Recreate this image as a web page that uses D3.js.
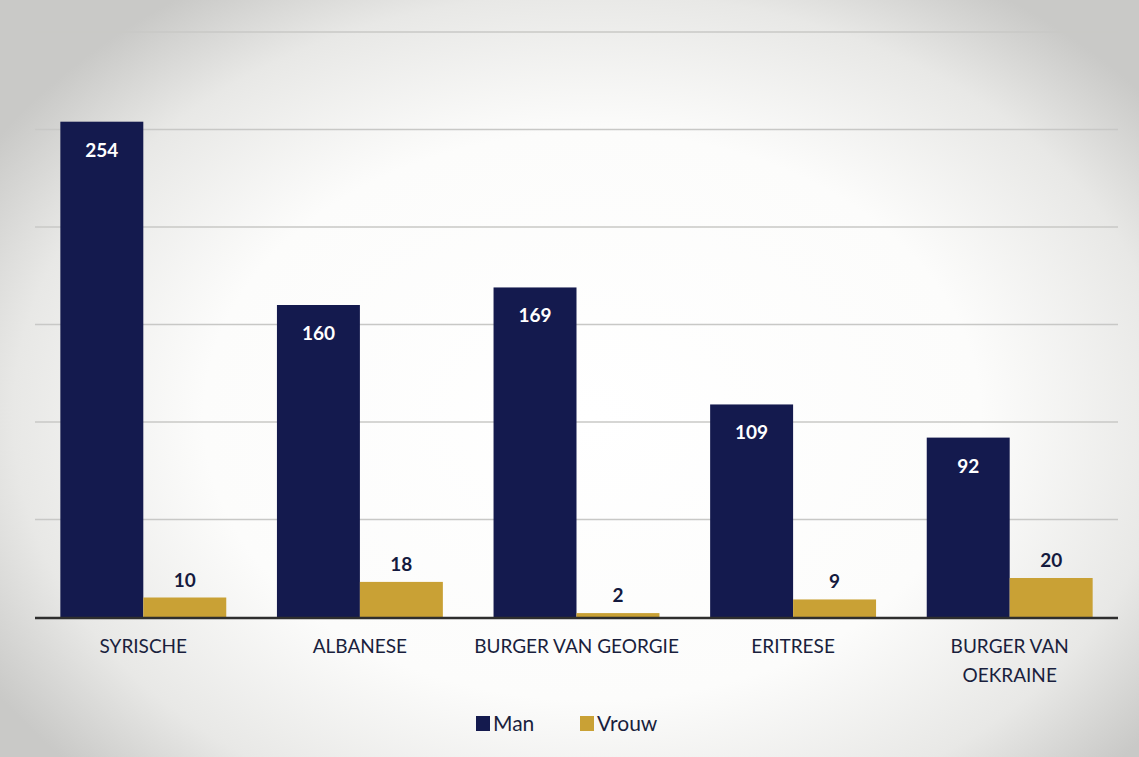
<!DOCTYPE html>
<html><head><meta charset="utf-8">
<script src="https://cdn.jsdelivr.net/npm/d3@7"></script>
<style>html,body{margin:0;padding:0;background:#fff;}svg{display:block;}</style>
</head><body>
<script>
const categories = [["SYRISCHE"],["ALBANESE"],["BURGER VAN GEORGIE"],["ERITRESE"],["BURGER VAN","OEKRAINE"]];
const seriesNames = ["Man","Vrouw"];
const manValues = [254,160,169,109,92];
const vrouwValues = [10,18,2,9,20];
const gridTicks = [50,100,150,200,250,300];
const colors = {Man:"#141a4e", Vrouw:"#c9a135"};

(function(){
const W=1139,H=757;
const svg=d3.select("body").append("svg").attr("width",W).attr("height",H);
const defs=svg.append("defs");
const rg=defs.append("radialGradient").attr("id","bg").attr("cx","52%").attr("cy","55%").attr("r","62%")
  .attr("gradientTransform","translate(0.5,0.55) scale(1,1.1) translate(-0.5,-0.55)");
rg.append("stop").attr("offset","0%").attr("stop-color","#ffffff");
rg.append("stop").attr("offset","55%").attr("stop-color","#fcfcfb");
rg.append("stop").attr("offset","82%").attr("stop-color","#e8e8e6");
rg.append("stop").attr("offset","100%").attr("stop-color","#c9c9c7");
svg.append("rect").attr("width",W).attr("height",H).attr("fill","url(#bg)");

const left=35,right=1118,plotTop=32,base=617;
const x=d3.scaleBand().domain(d3.range(categories.length)).range([left,right]).paddingInner(0.234).paddingOuter(0.117);
const xs=d3.scaleBand().domain(seriesNames).range([0,x.bandwidth()]);
const y=d3.scaleLinear().domain([0,300]).range([base,plotTop]);

svg.append("g").selectAll("line").data(gridTicks).join("line")
 .attr("x1",left).attr("x2",right).attr("y1",d=>y(d)).attr("y2",d=>y(d))
 .attr("stroke","#c8c8c6").attr("stroke-width",1.4);

const font="Lato, 'Open Sans', sans-serif";
const data=categories.map((c,i)=>({i,Man:manValues[i],Vrouw:vrouwValues[i]}));
const g=svg.append("g");
data.forEach(d=>{
  seriesNames.forEach(s=>{
    const x0=x(d.i)+xs(s);
    g.append("rect").attr("x",x0).attr("y",y(d[s])).attr("width",xs.bandwidth()).attr("height",base-y(d[s])).attr("fill",colors[s]);
    if(s==="Man"){
      g.append("text").attr("x",x0+xs.bandwidth()/2).attr("y",y(d[s])+35).attr("text-anchor","middle")
       .attr("font-family",font).attr("font-weight",700).attr("font-size",19).attr("fill","#ffffff").text(d[s]);
    } else {
      g.append("text").attr("x",x0+xs.bandwidth()/2).attr("y",y(d[s])-11).attr("text-anchor","middle")
       .attr("font-family",font).attr("font-weight",700).attr("font-size",19).attr("fill","#141a3e").text(d[s]);
    }
  });
});

svg.append("line").attr("x1",left).attr("x2",right).attr("y1",base+1).attr("y2",base+1).attr("stroke","#2e2e2e").attr("stroke-width",2.5);

const xAxis=svg.append("g");
categories.forEach((c,i)=>{
  const t=xAxis.append("text").attr("x",x(i)+x.bandwidth()/2).attr("y",653).attr("text-anchor","middle")
   .attr("font-family",font).attr("font-size",19).attr("fill","#1a1f3d");
  c.forEach((line,k)=>t.append("tspan").attr("x",x(i)+x.bandwidth()/2).attr("dy",k===0?0:29).text(line));
});

const lg=svg.append("g");
const items=[{n:"Man",x:476},{n:"Vrouw",x:580}];
items.forEach(it=>{
  lg.append("rect").attr("x",it.x).attr("y",716).attr("width",14).attr("height",15).attr("fill",colors[it.n]);
  lg.append("text").attr("x",it.x+17).attr("y",731).attr("font-family",font).attr("font-size",21).attr("fill","#1a1f3d").text(it.n);
});
})();
</script>
</body></html>
